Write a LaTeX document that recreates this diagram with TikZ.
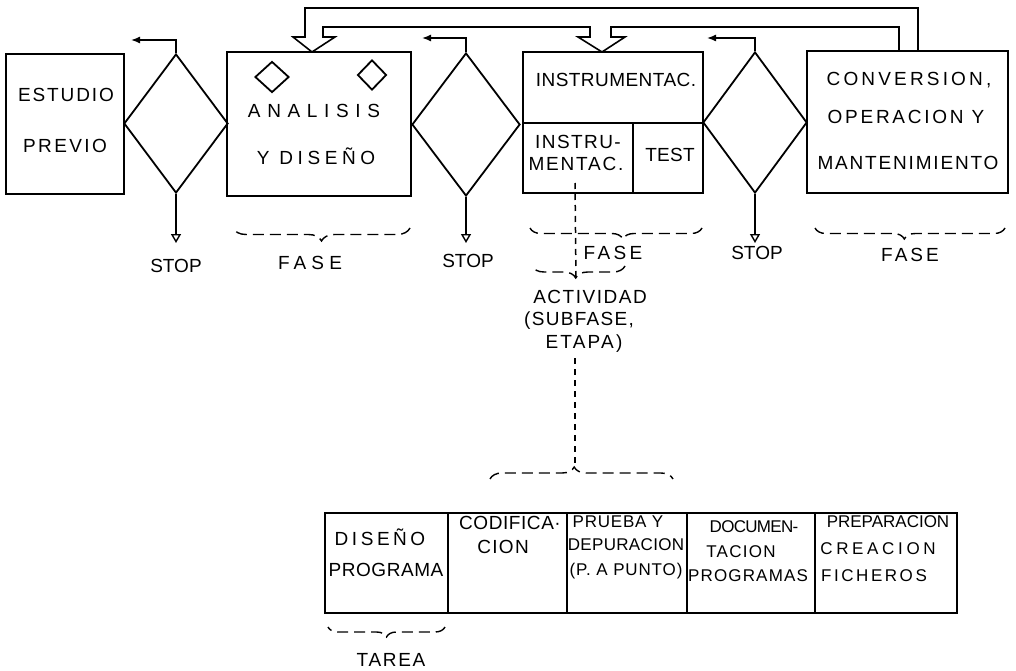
\documentclass[tikz,border=0pt]{standalone}
\usepackage{fontspec}
\setmainfont{Liberation Sans}
\usetikzlibrary{arrows.meta,shapes.geometric,decorations.pathreplacing,fit}
\newcommand\hw[2]{{\addfontfeatures{LetterSpace=#1}#2}}
\begin{document}
\begin{tikzpicture}[x=1pt,y=-1pt,
  line width=1.6pt, line join=miter,
  box/.style={draw, inner sep=0pt, line width=1.8pt},
  dia/.style={draw, diamond, inner sep=0pt, line width=1.8pt},
  lbl/.style={inner sep=0pt, font=\fontsize{19}{22}\selectfont},
  slbl/.style={inner sep=0pt, font=\fontsize{17}{20}\selectfont},
  brc/.style={decorate, decoration={brace, amplitude=#1}, dash pattern=on 11pt off 6pt, line width=1.4pt},
  brc/.default=12pt,
  fbk/.style={-{Latex[length=9pt,width=7pt]}, line width=1.4pt},
  stp/.style={-{Triangle[open,length=9pt,width=10pt]}, line width=1.4pt},
  dline/.style={dash pattern=on 6pt off 5pt, line width=1.5pt},
]
\useasboundingbox (0,0) rectangle (1016,671);
\fill[white] (0,0) rectangle (1016,671);

% corner coordinates
\coordinate (e1) at (6,54);   \coordinate (e2) at (124,194);
\coordinate (a1) at (227,52); \coordinate (a2) at (411,196);
\coordinate (i1) at (523,52); \coordinate (i2) at (703,193);
\coordinate (c1) at (807,51); \coordinate (c2) at (1008,193);

% main boxes
\node[box, fit=(e1)(e2)] (estudio) {};
\node[box, fit=(a1)(a2)] (analisis) {};
\node[box, fit=(i1)(i2)] (instr) {};
\node[box, fit=(c1)(c2)] (conv) {};
\coordinate (idl) at (523,123); \coordinate (idr) at (703,123);
\coordinate (ivt) at (633,123); \coordinate (ivb) at (633,193);
\draw[line width=1.8pt] (idl) -- (idr);
\draw[line width=1.8pt] (ivt) -- (ivb);

% diamonds
\node[dia, minimum width=104pt, minimum height=139pt] (d1) at (176,123.5) {};
\node[dia, minimum width=108pt, minimum height=143pt] (d2) at (466,124.5) {};
\node[dia, minimum width=104pt, minimum height=141pt] (d3) at (755,122.5) {};
\node[dia, minimum width=34pt, minimum height=31pt] (sd1) at (272,77) {};
\node[dia, minimum width=29pt, minimum height=30pt] (sd2) at (372,75) {};

% small back arrows
\coordinate (k1) at (131,40); \coordinate (k2) at (422,38); \coordinate (k3) at (707,38);
\draw[fbk] (d1.north) |- (k1);
\draw[fbk] (d2.north) |- (k2);
\draw[fbk] (d3.north) |- (k3);

% STOP arrows
\coordinate (s1) at (176,243); \coordinate (s2) at (466,243); \coordinate (s3) at (755,243);
\draw[stp] (d1.south) -- (s1);
\draw[stp] (d2.south) -- (s2);
\draw[stp] (d3.south) -- (s3);

% feedback hollow arrow
\draw[line width=1.6pt] (918,51) -- (918,8) -- (305,8) -- (305,37) -- (293,37) -- (312,52)
  -- (335,37) -- (323,37) -- (323,27) -- (590,27) -- (590,37) -- (578,37) -- (602,52)
  -- (625,37) -- (611,37) -- (611,27) -- (899,27) -- (899,51);

% texts in boxes
\node[lbl] (te1) at (66,95) {\hw{10}{ESTUDIO}};
\node[lbl] (te2) at (65,146) {\hw{12.5}{PREVIO}};
\node[lbl] (ta1) at (314,111) {\hw{35}{ANALISIS}};
\node[lbl] (ta2) at (316,156) {\hw{24}{Y DISEÑO}};
\node[lbl] (ti1) at (616,80) {\hw{2.4}{INSTRUMENTAC.}};
\node[lbl] (ti2) at (578,142) {\hw{7.5}{INSTRU-}};
\node[lbl] (ti3) at (576,164) {\hw{9.4}{MENTAC.}};
\node[lbl] (tt) at (670,155) {\hw{1.5}{TEST}};
\node[lbl] (tc1) at (909,80) {\hw{16.7}{CONVERSION,}};
\node[lbl] (tc2) at (906,117) {\hw{14.4}{OPERACION Y}};
\node[lbl] (tc3) at (908,163) {\hw{9.6}{MANTENIMIENTO}};

% stop labels
\node[lbl] (st1) at (176,266) {STOP};
\node[lbl] (st2) at (468,261) {STOP};
\node[lbl] (st3) at (757,253) {STOP};

% braces FASE
\draw[brc=13pt, decoration={aspect=0.5}] (410,228) -- (233,228);
\draw[brc=11pt, decoration={aspect=0.46}] (702,228) -- (530,228);
\draw[brc=11pt, decoration={aspect=0.53}] (1005,228) -- (815,228);
\node[lbl] (f1) at (310,263) {\hw{27}{FASE}};
\node[lbl] (f2) at (613,253) {\hw{18}{FASE}};
\node[lbl] (f3) at (910,255) {\hw{16}{FASE}};

% actividad
\draw[brc=12pt, decoration={aspect=0.53}] (625,266) -- (532,266);
\coordinate (atip) at (576,279);
\node[lbl] (ac1) at (590,297) {\hw{8}{ACTIVIDAD}};
\node[lbl] (ac2) at (579,321) {\hw{6.8}{(SUBFASE,}};
\node[lbl] (ac3) at (584,344) {\hw{11.7}{ETAPA)}};
\coordinate (dtop) at (575,183);
\coordinate (dmid) at (575,358);
\coordinate (btip) at (575,467);
\draw[dline] (dtop) -- (atip);
\draw[dline] (dmid) -- (btip);
\draw[brc=12pt, decoration={aspect=0.46}] (490,479) -- (673,479);

% bottom boxes
\coordinate (b0) at (325,513); \coordinate (b1) at (448,613);
\coordinate (b2) at (448,513); \coordinate (b3) at (567,613);
\coordinate (b4) at (567,513); \coordinate (b5) at (687,613);
\coordinate (b6) at (687,513); \coordinate (b7) at (815,613);
\coordinate (b8) at (815,513); \coordinate (b9) at (957,613);
\node[box, fit=(b0)(b1)] (bx1) {};
\node[box, fit=(b2)(b3)] (bx2) {};
\node[box, fit=(b4)(b5)] (bx3) {};
\node[box, fit=(b6)(b7)] (bx4) {};
\node[box, fit=(b8)(b9)] (bx5) {};

\node[lbl] (p1a) at (380,537) {\hw{18.6}{DISEÑO}};
\node[lbl] (p1b) at (386,570) {\hw{3}{PROGRAMA}};
\node[lbl] (p2a) at (510,523) {\hw{3}{CODIFICA·}};
\node[lbl] (p2b) at (503,547) {\hw{7}{CION}};
\node[slbl] (p3a) at (618,522) {\hw{4.5}{PRUEBA Y}};
\node[slbl] (p3b) at (626,545) {\hw{2}{DEPURACION}};
\node[slbl] (p3c) at (626,571) {\hw{5}{(P. A PUNTO)}};
\node[slbl] (p4a) at (754,527) {\hw{-4}{DOCUMEN-}};
\node[slbl] (p4b) at (741,552) {\hw{7.6}{TACION}};
\node[slbl] (p4c) at (748,576) {\hw{6.9}{PROGRAMAS}};
\node[slbl] (p5a) at (888,522) {PREPARACION};
\node[slbl] (p5b) at (878,549) {\hw{21.5}{CREACION}};
\node[slbl] (p5c) at (874,576) {\hw{15}{FICHEROS}};

\draw[brc=10pt, decoration={aspect=0.5}] (445,627) -- (328,627);
\node[lbl] (tarea) at (391,660) {\hw{9}{TAREA}};
\end{tikzpicture}
\end{document}
